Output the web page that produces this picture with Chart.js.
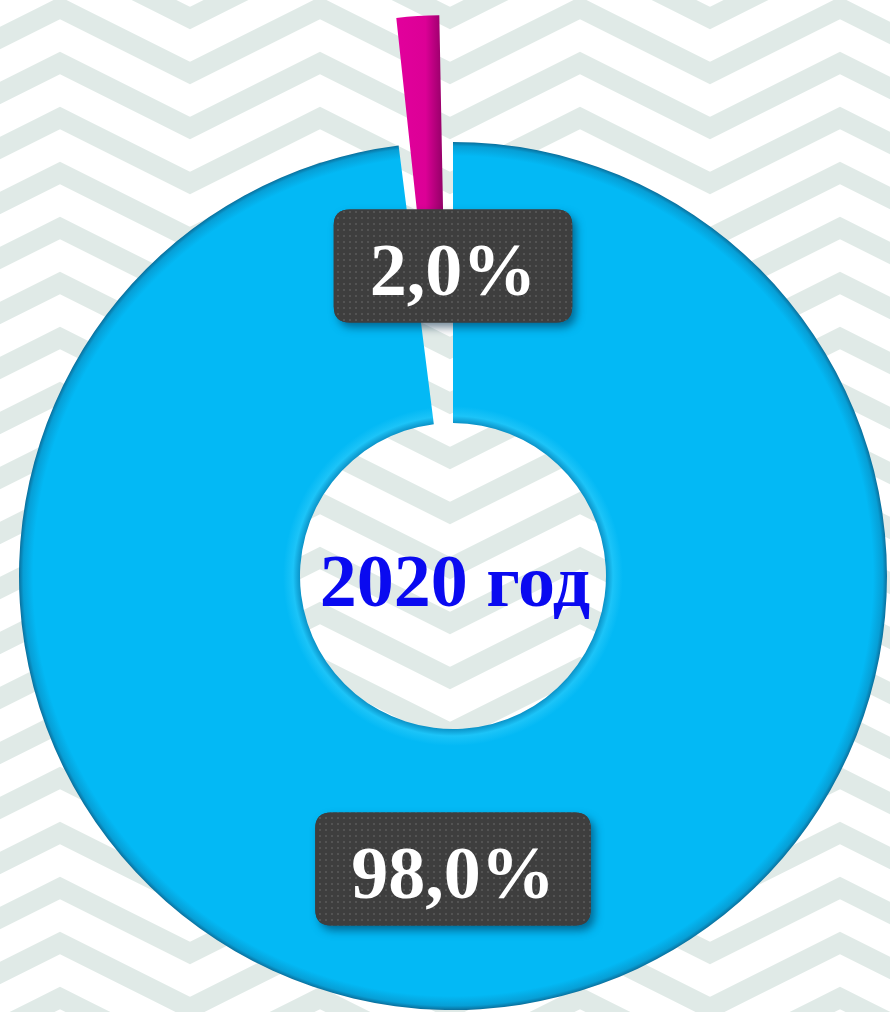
<!DOCTYPE html>
<html lang="ru">
<head>
    <meta charset="UTF-8">
    <title>2020 год</title>
    <script src="https://cdn.jsdelivr.net/npm/chart.js"></script>
    <style>
        html, body {
            margin: 0;
            padding: 0;
            width: 890px;
            height: 1012px;
            overflow: hidden;
        }
        body {
            background-color: #ffffff;
            /* светлый узор из «ёлочек» на фоне */
            background-image: url("data:image/svg+xml;utf8,<svg xmlns='http://www.w3.org/2000/svg' width='260' height='110'><g fill='none' stroke='%23e0eae7' stroke-width='20'><polyline points='-130,-45 0,-110 130,-45 260,-110 390,-45'/><polyline points='-130,10 0,-55 130,10 260,-55 390,10'/><polyline points='-130,65 0,0 130,65 260,0 390,65'/><polyline points='-130,120 0,55 130,120 260,55 390,120'/><polyline points='-130,175 0,110 130,175 260,110 390,175'/></g></svg>");
            background-position: 60px 8px;
        }
        #wrap {
            position: relative;
            width: 890px;
            height: 1012px;
        }
    </style>
</head>
<body>
    <div id="wrap">
        <canvas id="donut" width="890" height="1012"></canvas>
    </div>

    <script>
        // Данные диаграммы
        const categories = ['Прочее', 'Доля'];
        const shares = [98.0, 2.0];
        const shareLabels = ['98,0%', '2,0%'];
        const centerTitle = '2020 год';

        const sliceColors = ['#03b9f5', '#dc0096'];
        const outerR = 434;
        const innerR = 153;
        const explode = [0, 271];

        // Заливка с эффектом объёма
        function sliceFill(context) {
            const chart = context.chart;
            const area = chart.chartArea;
            if (!area) return sliceColors[context.dataIndex];
            const ctx = chart.ctx;
            const cx = (area.left + area.right) / 2;
            const cy = (area.top + area.bottom) / 2;
            if (context.dataIndex === 0) {
                const g = ctx.createRadialGradient(cx, cy, innerR, cx, cy, outerR);
                g.addColorStop(0, '#0b93c8');
                g.addColorStop(0.025, '#1cc4f8');
                g.addColorStop(0.06, '#03b9f5');
                g.addColorStop(0.95, '#03b9f5');
                g.addColorStop(0.985, '#079fd6');
                g.addColorStop(1, '#0a6f9c');
                return g;
            }
            const g = ctx.createLinearGradient(cx - 68, 0, cx - 4, 0);
            g.addColorStop(0, '#b5007a');
            g.addColorStop(0.25, '#e2009c');
            g.addColorStop(0.7, '#dc0096');
            g.addColorStop(1, '#8c0062');
            return g;
        }

        // Узор точек для подписей
        function dotPattern(ctx) {
            const c = document.createElement('canvas');
            c.width = 6;
            c.height = 6;
            const p = c.getContext('2d');
            p.fillStyle = '#3e3e3e';
            p.fillRect(0, 0, 6, 6);
            p.fillStyle = '#535353';
            p.fillRect(1, 1, 2, 2);
            return ctx.createPattern(c, 'repeat');
        }

        function roundRect(ctx, x, y, w, h, r) {
            ctx.beginPath();
            ctx.moveTo(x + r, y);
            ctx.lineTo(x + w - r, y);
            ctx.quadraticCurveTo(x + w, y, x + w, y + r);
            ctx.lineTo(x + w, y + h - r);
            ctx.quadraticCurveTo(x + w, y + h, x + w - r, y + h);
            ctx.lineTo(x + r, y + h);
            ctx.quadraticCurveTo(x, y + h, x, y + h - r);
            ctx.lineTo(x, y + r);
            ctx.quadraticCurveTo(x, y, x + r, y);
            ctx.closePath();
        }

        // Подписи долей и заголовок в центре
        const labelPlugin = {
            id: 'labelPlugin',
            afterDatasetsDraw(chart) {
                const ctx = chart.ctx;
                const meta = chart.getDatasetMeta(0);
                const arc0 = meta.data[0];
                const cx = arc0.x;
                const cy = arc0.y;
                // вертикальное смещение подписи от центра
                const dy = [293, -310];
                ctx.save();
                ctx.font = 'bold 74px "Liberation Serif", "Times New Roman", serif';
                const pattern = dotPattern(ctx);
                shareLabels.forEach((text, i) => {
                    const w = ctx.measureText(text).width + 72;
                    const h = 113;
                    const bx = cx - w / 2;
                    const by = cy + dy[i] - h / 2;
                    ctx.save();
                    ctx.shadowColor = 'rgba(0, 40, 70, 0.55)';
                    ctx.shadowBlur = 8;
                    ctx.shadowOffsetX = 4;
                    ctx.shadowOffsetY = 5;
                    roundRect(ctx, bx, by, w, h, 16);
                    ctx.fillStyle = '#3e3e3e';
                    ctx.fill();
                    ctx.restore();
                    roundRect(ctx, bx, by, w, h, 16);
                    ctx.fillStyle = pattern;
                    ctx.fill();
                    ctx.fillStyle = '#ffffff';
                    ctx.textAlign = 'center';
                    ctx.textBaseline = 'alphabetic';
                    ctx.fillText(text, cx, cy + dy[i] + 29);
                });
                ctx.fillStyle = '#0a0af0';
                ctx.textAlign = 'center';
                ctx.fillText(centerTitle, cx + 2, cy + 30);
                ctx.restore();
            }
        };

        new Chart(document.getElementById('donut').getContext('2d'), {
            type: 'doughnut',
            data: {
                labels: categories,
                datasets: [{
                    data: shares,
                    backgroundColor: sliceFill,
                    borderWidth: 0,
                    offset: explode,
                    clip: false
                }]
            },
            options: {
                responsive: false,
                animation: false,
                radius: outerR,
                cutout: (innerR / outerR * 100) + '%',
                layout: {
                    padding: { left: 16, right: 0, top: 140, bottom: 0 }
                },
                plugins: {
                    legend: { display: false },
                    tooltip: { enabled: false }
                },
                events: []
            },
            plugins: [labelPlugin]
        });
    </script>
</body>
</html>
